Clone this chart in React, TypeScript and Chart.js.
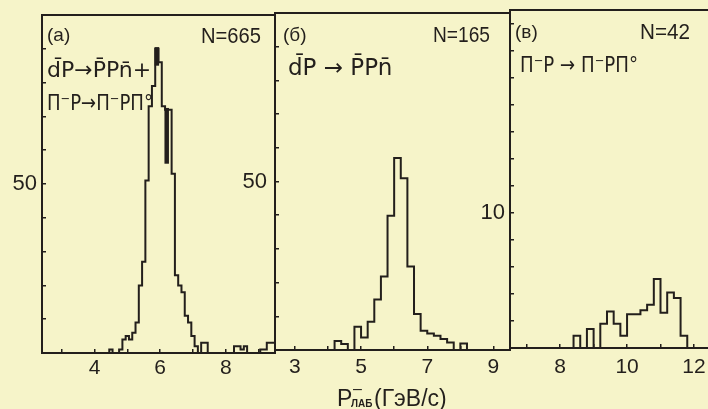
import { useEffect, useRef } from 'react';
import { Chart, registerables } from 'chart.js';

Chart.register(...registerables);

const INK = '#231f1c';
const PAPER = '#f6f4c9';
const W = 708;
const H = 409;
const Y_W = 40;
const X_H = 40;

// ---------- Panel (а): d̄p→p̄pn̄ + π⁻p→π⁻pπ°, N=665 ----------
const binStartA = 4.45;
const binWidthA = 0.1;
const countsA = [
  1, 0, 0, 1, 4, 5, 4, 6, 9, 20,
  27, 51, 73, 79, 90, 86, 73, 72, 72, 53,
  23, 20, 18, 11, 9, 5, 2, 0, 3, 3,
  0, 0, 0, 0, 0, 0, 0, 0, 2, 2,
  1, 2, 0, 0, 0, 0, 1, 1, 3, 3,
  3,
];
const marksXA = [5.9, 6.2];
const marksLowA = [85, 56];
const marksHighA = [90.5, 72.5];
const xTickLabelsA = [4, 6, 8];
const yTickLabelsA = [50];

// ---------- Panel (б): d̄p→p̄pn̄, N=165 ----------
const binStartB = 4.2;
const binWidthB = 0.2;
const countsB = [
  2.7, 1.8, 0, 6.9, 3.7, 8.4, 15, 21.8, 39.8, 57,
  51, 24.8, 10.7, 5.7, 4.9, 4.2, 3.3, 2.2, 0, 1.9,
];
const xTickLabelsB = [3, 5, 7, 9];
const yTickLabelsB = [50];

// ---------- Panel (в): π⁻p→π⁻pπ°, N=42 ----------
const binStartC = 8.4;
const binWidthC = 0.2;
const countsC = [
  0.9, 0, 1.4, 0, 1.8, 2.7, 1.8, 0.9, 2.5, 2.5,
  2.8, 3.2, 5.1, 2.6, 4.1, 3.7, 0.9,
];
const xTickLabelsC = [8, 10, 12];
const yTickLabelsC = [10];

function stepPoints(start: number, width: number, counts: number[]) {
  const pts = [{ x: start, y: 0 }];
  counts.forEach((c, i) => pts.push({ x: +(start + i * width).toFixed(4), y: c }));
  pts.push({ x: +(start + counts.length * width).toFixed(4), y: 0 });
  return pts;
}

function histDataset(pts: any[]) {
  return {
    data: pts,
    borderColor: INK,
    borderWidth: 2,
    pointRadius: 0,
    stepped: true,
    fill: false,
    tension: 0,
    borderJoinStyle: 'miter',
  };
}

type TextItem = {
  text: string;
  x: number;
  y: number;
  font: string;
  align?: 'left' | 'right' | 'center';
  maxWidth?: number;
};

type Panel = {
  area: { left: number; top: number; right: number; bottom: number };
  xMin: number;
  xMax: number;
  yMax: number;
  yStep: number;
  xLabels: number[];
  yLabels: number[];
  xPad: number;
  yPad: number;
  rightFrame: boolean;
  datasets: any[];
  texts: TextItem[];
};

const panels: Panel[] = [
  {
    area: { left: 42, top: 15, right: 275, bottom: 353 },
    xMin: 2.4,
    xMax: 9.5,
    yMax: 100,
    yStep: 10,
    xLabels: xTickLabelsA,
    yLabels: yTickLabelsA,
    xPad: 7,
    yPad: 9,
    rightFrame: true,
    datasets: [
      histDataset(stepPoints(binStartA, binWidthA, countsA)),
      ...marksXA.map((x, i) => ({
        data: [
          { x, y: marksLowA[i] },
          { x, y: marksHighA[i] },
        ],
        borderColor: INK,
        borderWidth: 4.5,
        pointRadius: 0,
        borderCapStyle: 'butt',
        fill: false,
      })),
    ],
    texts: [
      { text: '(а)', x: 47, y: 41, font: '19px "Liberation Sans"' },
      { text: 'N=665', x: 261, y: 43, font: '22px "Liberation Sans"', align: 'right', maxWidth: 60 },
      { text: 'd\u0304P\u2192P\u0304Pn\u0304+', x: 47, y: 77, font: '22px "DejaVu Sans"', maxWidth: 105 },
      { text: '\u03A0\u207BP\u2192\u03A0\u207BP\u03A0\u00B0', x: 47, y: 110, font: '22px "DejaVu Sans"', maxWidth: 106 },
    ],
  },
  {
    area: { left: 275, top: 13, right: 510, bottom: 350 },
    xMin: 2.4,
    xMax: 9.5,
    yMax: 100,
    yStep: 10,
    xLabels: xTickLabelsB,
    yLabels: yTickLabelsB,
    xPad: 9,
    yPad: 12,
    rightFrame: true,
    datasets: [histDataset(stepPoints(binStartB, binWidthB, countsB))],
    texts: [
      { text: '(б)', x: 283, y: 41, font: '19px "Liberation Sans"' },
      { text: 'N=165', x: 490, y: 42, font: '22px "Liberation Sans"', align: 'right', maxWidth: 57 },
      { text: 'd\u0304P \u2192 P\u0304Pn\u0304', x: 288, y: 75, font: '23px "DejaVu Sans"', maxWidth: 106 },
      // x-axis title
      { text: 'P', x: 337, y: 406, font: '23px "Liberation Sans"' },
      { text: '\u2013', x: 353, y: 394, font: '16px "Liberation Sans"' },
      { text: 'ЛАБ', x: 351, y: 407, font: 'bold 10px "Liberation Sans"', maxWidth: 22 },
      { text: '(ГэВ/с)', x: 374, y: 406, font: '23px "Liberation Sans"', maxWidth: 80 },
    ],
  },
  {
    area: { left: 510, top: 10, right: 708, bottom: 348 },
    xMin: 6.5,
    xMax: 12.42,
    yMax: 25,
    yStep: 2,
    xLabels: xTickLabelsC,
    yLabels: yTickLabelsC,
    xPad: 11,
    yPad: 9,
    rightFrame: false,
    datasets: [histDataset(stepPoints(binStartC, binWidthC, countsC))],
    texts: [
      { text: '(в)', x: 515, y: 38, font: '19px "Liberation Sans"' },
      { text: 'N=42', x: 690, y: 39, font: '22px "Liberation Sans"', align: 'right', maxWidth: 50 },
      { text: '\u03A0\u207BP \u2192 \u03A0\u207BP\u03A0\u00B0', x: 520, y: 72, font: '22px "DejaVu Sans"', maxWidth: 118 },
    ],
  },
];

function makeTextPlugin(items: TextItem[]) {
  return {
    id: 'panelText',
    afterDraw(chart: any) {
      const ctx = chart.ctx;
      ctx.save();
      ctx.fillStyle = INK;
      ctx.textBaseline = 'alphabetic';
      for (const t of items) {
        ctx.font = t.font;
        ctx.textAlign = t.align || 'left';
        if (t.maxWidth) {
          const w = ctx.measureText(t.text).width;
          if (w > t.maxWidth) {
            ctx.fillText(t.text, t.x, t.y, t.maxWidth);
            continue;
          }
        }
        ctx.fillText(t.text, t.x, t.y);
      }
      ctx.restore();
    },
  };
}

function zeroPad(s: any) {
  s.paddingLeft = 0;
  s.paddingRight = 0;
  s.paddingTop = 0;
  s.paddingBottom = 0;
}

function makeChart(canvas: HTMLCanvasElement, p: Panel) {
  const { area } = p;
  const tickGrid = {
    display: true,
    drawOnChartArea: false,
    drawTicks: true,
    tickLength: -4,
    color: INK,
    lineWidth: 1.5,
  };
  const border = { display: true, color: INK, width: 2 };
  const scales: any = {
    x: {
      type: 'linear',
      position: 'bottom',
      min: p.xMin,
      max: p.xMax,
      grid: tickGrid,
      border,
      ticks: {
        stepSize: 1,
        includeBounds: false,
        autoSkip: false,
        maxRotation: 0,
        padding: p.xPad,
        color: INK,
        font: { family: '"Liberation Sans", Arial, sans-serif', size: 21 },
        callback: (v: number) => (p.xLabels.includes(Math.round(v)) && Math.abs(v - Math.round(v)) < 1e-6 ? String(Math.round(v)) : ''),
      },
      afterFit: (s: any) => {
        s.height = X_H;
        zeroPad(s);
      },
    },
    y: {
      type: 'linear',
      position: 'left',
      min: 0,
      max: p.yMax,
      grid: tickGrid,
      border,
      ticks: {
        stepSize: p.yStep,
        includeBounds: false,
        autoSkip: false,
        padding: p.yPad,
        color: INK,
        font: { family: '"Liberation Sans", Arial, sans-serif', size: 22 },
        callback: (v: number) => (p.yLabels.includes(Math.round(v)) && Math.abs(v - Math.round(v)) < 1e-6 ? String(Math.round(v)) : ''),
      },
      afterFit: (s: any) => {
        s.width = Y_W;
        zeroPad(s);
      },
    },
    xTop: {
      type: 'linear',
      position: 'top',
      min: p.xMin,
      max: p.xMax,
      grid: { display: false, drawTicks: false },
      ticks: { display: false },
      border,
      afterFit: (s: any) => {
        s.height = 0;
        zeroPad(s);
      },
    },
  };
  if (p.rightFrame) {
    scales.yRight = {
      type: 'linear',
      position: 'right',
      min: 0,
      max: p.yMax,
      grid: { display: false, drawTicks: false },
      ticks: { display: false },
      border,
      afterFit: (s: any) => {
        s.width = 0;
        zeroPad(s);
      },
    };
  }
  return new Chart(canvas, {
    type: 'line',
    data: { datasets: p.datasets },
    options: {
      animation: false,
      responsive: false,
      events: [],
      layout: {
        padding: {
          left: area.left - Y_W,
          top: area.top,
          right: W - area.right,
          bottom: H - area.bottom - X_H,
        },
      },
      plugins: {
        legend: { display: false },
        tooltip: { enabled: false },
        title: { display: false },
      },
      scales,
    } as any,
    plugins: [makeTextPlugin(p.texts)],
  } as any);
}

export default function App() {
  const refs = useRef<(HTMLCanvasElement | null)[]>([]);

  useEffect(() => {
    const charts = panels.map((p, i) => makeChart(refs.current[i] as HTMLCanvasElement, p));
    return () => charts.forEach((c) => c.destroy());
  }, []);

  return (
    <div
      style={{
        position: 'fixed',
        left: 0,
        top: 0,
        width: W,
        height: H,
        background: PAPER,
        overflow: 'hidden',
      }}
    >
      {panels.map((_, i) => (
        <canvas
          key={i}
          ref={(el) => {
            refs.current[i] = el;
          }}
          width={W}
          height={H}
          style={{ position: 'absolute', left: 0, top: 0, width: W, height: H }}
        />
      ))}
    </div>
  );
}
